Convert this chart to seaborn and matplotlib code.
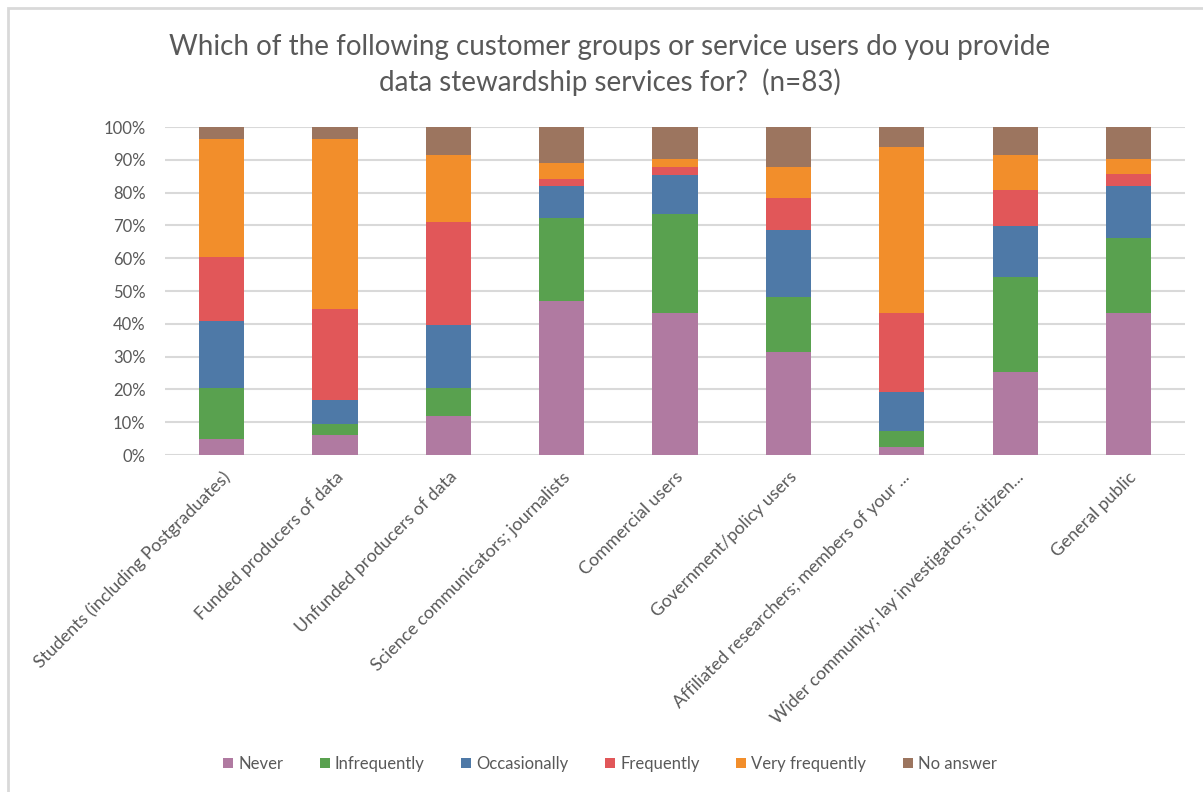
import matplotlib
matplotlib.use("Agg")
import matplotlib.pyplot as plt
from matplotlib.patches import Patch, Rectangle
import seaborn as sns
import pandas as pd
import numpy as np

# Customer groups (x categories)
categories = [
    "Students (including Postgraduates)",
    "Funded producers of data",
    "Unfunded producers of data",
    "Science communicators; journalists",
    "Commercial users",
    "Government/policy users",
    "Affiliated researchers; members of your ...",
    "Wider community; lay investigators; citizen...",
    "General public",
]

# Share of respondents (%) per answer, n=83
never = [4.8, 6.0, 12.0, 47.0, 43.4, 31.3, 2.4, 25.3, 43.4]
infrequently = [15.7, 3.6, 8.4, 25.3, 30.1, 16.9, 4.8, 28.9, 22.9]
occasionally = [20.5, 7.2, 19.3, 9.6, 12.0, 20.5, 12.0, 15.7, 15.7]
frequently = [19.3, 27.7, 31.3, 2.4, 2.4, 9.6, 24.1, 10.8, 3.6]
very_frequently = [36.1, 51.8, 20.5, 4.8, 2.4, 9.6, 50.6, 10.8, 4.8]
no_answer = [3.6, 3.6, 8.4, 10.8, 9.6, 12.0, 6.0, 8.4, 9.6]

series_names = ["Never", "Infrequently", "Occasionally", "Frequently",
                "Very frequently", "No answer"]
series_values = [never, infrequently, occasionally, frequently,
                 very_frequently, no_answer]
series_colors = ["#B07AA1", "#59A14F", "#4E79A7", "#E15759", "#F28E2B", "#9C755F"]

title_lines = ["Which of the following customer groups or service users do you provide",
               "data stewardship services for?  (n=83)"]

sns.set_theme(style="white")
plt.rcParams["font.family"] = ["Lato", "DejaVu Sans"]
text_gray = "#595959"

fig = plt.figure(figsize=(12.03, 7.92), dpi=100)
ax = fig.add_axes([0.1372, 0.4255, 0.848, 0.4141])

# stacked bars: each series sits on the running total of the ones below
bottom = np.zeros(len(categories))
for name, vals, col in zip(series_names, series_values, series_colors):
    df = pd.DataFrame({"group": categories, "pct": vals})
    sns.barplot(data=df, x="group", y="pct", order=categories, color=col,
                width=0.4, bottom=bottom, ax=ax, saturation=1,
                linewidth=0, zorder=3)
    bottom = bottom + np.array(vals)

ax.set_xlim(-0.5, len(categories) - 0.5)
ax.set_ylim(0, 100)
ax.set_yticks(np.arange(0, 101, 10))
ax.set_yticklabels([f"{v}%" for v in range(0, 101, 10)])
ax.yaxis.grid(True, color="#D9D9D9", linewidth=1.5, zorder=0)
ax.set_axisbelow(True)
for s in ax.spines.values():
    s.set_visible(False)
ax.set_xlabel("")
ax.set_ylabel("")
ax.tick_params(axis="y", length=0, pad=14, labelsize=12, labelcolor=text_gray)
ax.tick_params(axis="x", length=0, pad=10, labelsize=12.8, labelcolor=text_gray)
plt.setp(ax.get_xticklabels(), rotation=45, ha="right", rotation_mode="anchor")

# title
fig.text(0.507, 1 - 47 / 792, title_lines[0], ha="center", va="center",
         fontsize=20, color=text_gray)
fig.text(0.507, 1 - 82 / 792, title_lines[1], ha="center", va="center",
         fontsize=20, color=text_gray)

# legend
handles = [Patch(facecolor=c, edgecolor="none", label=n)
           for n, c in zip(series_names, series_colors)]
leg = fig.legend(handles=handles, loc="center", bbox_to_anchor=(0.507, 1 - 764 / 792),
                 ncol=6, frameon=False, fontsize=12, handlelength=0.6,
                 handleheight=0.6, handletextpad=0.3, columnspacing=2.2)
for t in leg.get_texts():
    t.set_color(text_gray)

# chart area frame
fig.patches.append(Rectangle((8 / 1203, -0.5), 2.0, 1.5 - 8 / 792,
                             transform=fig.transFigure, fill=False,
                             edgecolor="#D9D9D9", linewidth=2))

fig.savefig("out.png", dpi=100)
